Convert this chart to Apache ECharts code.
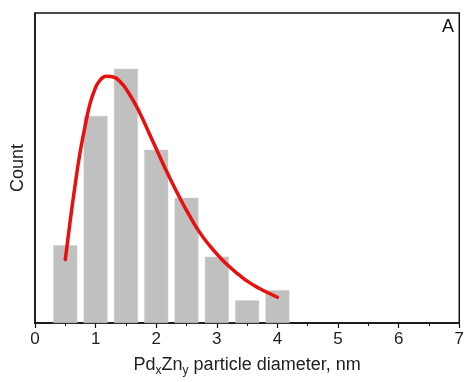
<!DOCTYPE html>
<html>
<head>
<meta charset="utf-8">
<script src="https://cdn.jsdelivr.net/npm/echarts@6/dist/echarts.min.js"></script>
<style>html,body{margin:0;padding:0;background:#fff}#c{width:467px;height:382px}</style>
</head>
<body>
<div id="c"></div>
<script>
// Histogram bins (diameter, nm) and bar heights (relative count)
const binCenters = [0.5, 1.0, 1.5, 2.0, 2.5, 3.0, 3.5, 4.0];
const counts = [25.1, 66.8, 82.0, 55.9, 40.4, 21.4, 7.3, 10.6];
// Fitted distribution curve
const fitX = [0.5, 0.575, 0.657, 0.739, 0.822, 0.904, 0.986, 1.068, 1.178, 1.249, 1.397, 1.561, 1.725, 1.890, 2.054, 2.218, 2.383, 2.547, 2.711, 2.875, 3.040, 3.204, 3.368, 3.533, 3.697, 3.861, 4.0];
const fitY = [20.5, 32.1, 43.8, 54.5, 63.0, 70.5, 75.3, 78.2, 79.6, 79.5, 78.0, 73.7, 67.9, 60.9, 53.9, 47.0, 40.6, 34.7, 29.4, 25.1, 21.4, 18.2, 15.5, 13.1, 11.2, 9.6, 8.3];
const xTicks = [0, 1, 2, 3, 4, 5, 6, 7];

const font = '"Liberation Sans", Arial, sans-serif';
const chart = echarts.init(document.getElementById('c'), null, {renderer: 'canvas'});
chart.setOption({
  animation: false,
  grid: {left: 35, top: 13, right: 6, bottom: 57, show: true, borderColor: '#111', borderWidth: 1.5, backgroundColor: 'transparent'},
  xAxis: {
    type: 'value', min: xTicks[0], max: xTicks[xTicks.length - 1], interval: 1,
    axisLine: {show: true, lineStyle: {color: '#111', width: 1.5}},
    axisTick: {show: true, length: 5, lineStyle: {color: '#111', width: 1.2}},
    minorTick: {show: true, splitNumber: 2, length: 3, lineStyle: {color: '#111', width: 1}},
    splitLine: {show: false},
    axisLabel: {fontFamily: font, fontSize: 17, color: '#222', margin: 8},
    name: 'Pd{sub|x}Zn{sub|y} particle diameter, nm',
    nameLocation: 'middle', nameGap: 31,
    nameTextStyle: {fontFamily: font, fontSize: 18, color: '#222',
      rich: {sub: {fontFamily: font, fontSize: 12, color: '#222', verticalAlign: 'bottom', padding: [11, 0, 0, 0]}}}
  },
  yAxis: {
    type: 'value', min: 0, max: 100,
    axisLine: {show: true, lineStyle: {color: '#111', width: 1.5}},
    axisTick: {show: false}, axisLabel: {show: false}, splitLine: {show: false},
    name: 'Count', nameLocation: 'middle', nameGap: 8,
    nameTextStyle: {fontFamily: font, fontSize: 18, color: '#222'}
  },
  graphic: [{type: 'text', left: 442, top: 18, style: {text: 'A', font: '18px ' + font, fill: '#111'}}],
  series: [
    {type: 'bar', data: binCenters.map((x, i) => [x, counts[i]]), barWidth: 24,
     itemStyle: {color: '#c0c0c0', borderColor: '#cfcfcf', borderWidth: 0.5}, z: 2},
    {type: 'line', data: fitX.map((x, i) => [x, fitY[i]]), smooth: 0.5, showSymbol: false,
     lineStyle: {color: '#e8100f', width: 3.5, cap: 'round', join: 'round'}, z: 3}
  ]
});
</script>
</body>
</html>
